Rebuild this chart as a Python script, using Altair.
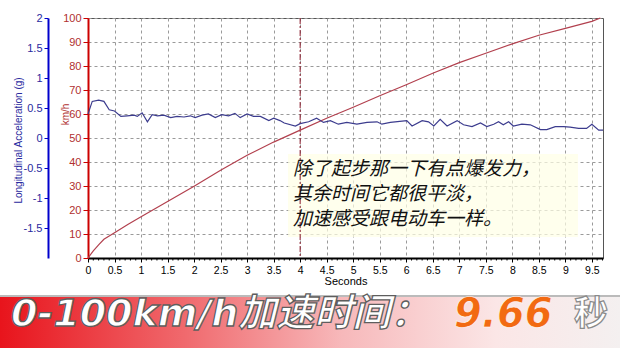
import altair as alt
import pandas as pd

# ---- data ----
speed_t = [0, 0.1, 0.2, 0.3, 0.5, 0.75, 1.0, 1.5, 2.0, 2.5, 3.0, 3.5, 4.0, 4.5, 5.0,
           5.5, 6.0, 6.5, 7.0, 7.5, 8.0, 8.5, 9.0, 9.5, 9.66]
speed_kmh = [0, 3.0, 5.5, 7.8, 10.5, 14.0, 17.2, 23.5, 29.9, 36.6, 42.8, 48.3, 53.3, 58.2, 62.8,
             67.6, 72.2, 77.0, 81.4, 85.3, 89.2, 92.8, 95.7, 98.6, 100]

acc_t = [0, 0.08, 0.2, 0.3, 0.4, 0.5, 0.62, 0.74, 0.87, 0.93, 1.02, 1.12, 1.21, 1.31, 1.43,
         1.56, 1.68, 1.81, 1.93, 2.02, 2.15, 2.27, 2.40, 2.52, 2.65, 2.77, 2.87, 3.0, 3.12,
         3.25, 3.41, 3.5, 3.62, 3.70, 3.91, 4.0, 4.16, 4.31, 4.44, 4.57, 4.72, 4.88, 5.07,
         5.26, 5.45, 5.54, 5.70, 6.01, 6.11, 6.30, 6.42, 6.52, 6.64, 6.77, 6.96, 7.08, 7.24,
         7.40, 7.52, 7.65, 7.74, 7.83, 7.93, 8.02, 8.18, 8.34, 8.53, 8.65, 8.81, 8.97, 9.09,
         9.25, 9.40, 9.50, 9.63, 9.71]
acc_g = [0.40, 0.61, 0.63, 0.61, 0.47, 0.45, 0.36, 0.37, 0.38, 0.36, 0.42, 0.27, 0.39, 0.37, 0.38,
         0.34, 0.36, 0.35, 0.37, 0.34, 0.38, 0.40, 0.34, 0.39, 0.37, 0.41, 0.34, 0.40, 0.36,
         0.36, 0.29, 0.33, 0.29, 0.25, 0.20, 0.24, 0.27, 0.33, 0.26, 0.29, 0.23, 0.26, 0.23,
         0.26, 0.27, 0.23, 0.26, 0.29, 0.20, 0.29, 0.27, 0.20, 0.31, 0.20, 0.29, 0.22, 0.19,
         0.25, 0.19, 0.23, 0.27, 0.22, 0.27, 0.20, 0.23, 0.22, 0.14, 0.14, 0.19, 0.19, 0.18,
         0.16, 0.16, 0.23, 0.13, 0.13]

x_ticks = [0, 0.5, 1, 1.5, 2, 2.5, 3, 3.5, 4, 4.5, 5, 5.5, 6, 6.5, 7, 7.5, 8, 8.5, 9, 9.5]
minor_ticks = [round(i * 0.1, 1) for i in range(98) if i % 5 != 0]
kmh_ticks = [0, 10, 20, 30, 40, 50, 60, 70, 80, 90, 100]
g_ticks = [-1.5, -1, -0.5, 0, 0.5, 1, 1.5, 2]
marker_t = [4]

note_lines = ["除了起步那一下有点爆发力，", "其余时间它都很平淡，", "加速感受跟电动车一样。"]
banner_label = "0-100km/h加速时间："
banner_value = "9.66"
banner_unit = "秒"

W, H = 515, 240
X_MAX = 9.71
LATIN = "Liberation Sans"
CJK = "Noto Sans CJK SC"

speed_df = pd.DataFrame({"t": speed_t, "v": speed_kmh})
acc_df = pd.DataFrame({"t": acc_t, "g": acc_g})
minor_df = pd.DataFrame({"t": minor_ticks})
marker_df = pd.DataFrame({"t": marker_t})
note_df = pd.DataFrame({"line": note_lines, "i": list(range(len(note_lines)))})

xscale = alt.Scale(domain=[0, X_MAX], nice=False, zero=False)

x_axis = alt.Axis(values=x_ticks, labelExpr="datum.value + ''", title="Seconds",
                  domainColor="#000000", domainWidth=2, tickColor="#000000", tickSize=4,
                  labelColor="#000000", labelFont=LATIN, labelFontSize=10.5, labelPadding=3,
                  titleFont=LATIN, titleFontSize=11, titleFontWeight="normal", titlePadding=0,
                  titleColor="#000000", grid=True, gridColor="#9a9a9a", gridDash=[3, 3],
                  labelFlush=False, labelOverlap=False, labelBound=False)

X = alt.X("t:Q", scale=xscale, axis=x_axis, title="Seconds")

speed = alt.Chart(speed_df).mark_line(color="#B2404E", strokeWidth=1.2).encode(
    x=X,
    y=alt.Y("v:Q", scale=alt.Scale(domain=[0, 100], nice=False),
            axis=alt.Axis(orient="left", values=kmh_ticks, title="km/h",
                          domainColor="#CC0000", domainWidth=2, tickColor="#CC0000",
                          tickSize=5, labelColor="#B03030", labelFont=LATIN,
                          labelFontSize=11, labelPadding=2, titleColor="#B03030",
                          titleFont=LATIN, titleFontSize=10, titleFontWeight="normal",
                          titleX=-23, titleY=96, titleAngle=-90, titleAlign="center",
                          titleBaseline="middle", labelOverlap=False,
                          grid=True, gridColor="#9a9a9a", gridDash=[3, 3])),
)

acc = alt.Chart(acc_df).mark_line(color="#3C3C8E", strokeWidth=1.2).encode(
    x=X,
    y=alt.Y("g:Q", scale=alt.Scale(domain=[-2, 2], nice=False),
            axis=alt.Axis(orient="left", offset=40, values=g_ticks,
                          labelExpr="datum.value + ''",
                          title="Longitudinal Acceleration (g)",
                          domainColor="#0000CC", domainWidth=2, tickColor="#0000CC",
                          tickSize=4, labelColor="#2A2AA0", labelFont=LATIN,
                          labelFontSize=11, labelPadding=2, titleColor="#2A2AA0",
                          titleFont=LATIN, titleFontSize=10, titleFontWeight="normal",
                          titleX=-30, titleY=122, titleAngle=-90, titleAlign="center",
                          titleBaseline="middle", labelOverlap=False, grid=False)),
)

minor = alt.Chart(minor_df).mark_rule(color="#000000", strokeWidth=1).encode(
    x=X, y=alt.value(H), y2=alt.value(H + 2.5),
)

marker = alt.Chart(marker_df).mark_rule(color="#8B1A2A", strokeWidth=1,
                                        strokeDash=[6, 2, 2, 2]).encode(
    x=X, y=alt.value(0), y2=alt.value(H),
)

note_box = alt.Chart(pd.DataFrame({"a": [0]})).mark_rect(
    fill="#FFFFE6", opacity=0.7).encode(
    x=alt.value(200), x2=alt.value(490), y=alt.value(136), y2=alt.value(219),
)

note = alt.Chart(note_df).mark_text(
    align="left", baseline="middle", font=CJK, fontSize=19, fontStyle="italic",
    color="#111111").encode(
    x=alt.value(205),
    y=alt.Y("i:Q", scale=alt.Scale(domain=[0, 2], range=[151, 201]), axis=None),
    text="line:N",
)

banner_grad = alt.LinearGradient(
    gradient="linear", x1=0, x2=1, y1=0, y2=0,
    stops=[alt.GradientStop(offset=0, color="#E8141C"),
           alt.GradientStop(offset=0.3, color="#F06A6E"),
           alt.GradientStop(offset=0.55, color="#F7B8BA"),
           alt.GradientStop(offset=0.8, color="#FBE6E6"),
           alt.GradientStop(offset=1, color="#F4F0F0")])

one = pd.DataFrame({"a": [0]})
banner_line = alt.Chart(one).mark_rule(color="#BBBBBB", strokeWidth=2).encode(
    x=alt.value(-88), x2=alt.value(532), y=alt.value(278),
)
banner = alt.Chart(one).mark_rect(fill=banner_grad).encode(
    x=alt.value(-88), x2=alt.value(532), y=alt.value(279), y2=alt.value(330),
)

BFONT = "DejaVu Sans, Noto Sans CJK SC"
label_txt = alt.Chart(pd.DataFrame({"s": [banner_label]})).mark_text(
    align="left", baseline="middle", font=BFONT, fontSize=38, fontWeight="bold",
    fontStyle="italic", color="#FFFFFF", stroke="#5E5E5E", strokeWidth=1.3).encode(
    x=alt.value(-77), y=alt.value(297), text="s:N")
value_txt = alt.Chart(pd.DataFrame({"s": [banner_value]})).mark_text(
    align="left", baseline="middle", font=BFONT, fontSize=40, fontWeight="bold",
    fontStyle="italic", color="#F26A12", stroke="#FFFFFF", strokeWidth=0.6).encode(
    x=alt.value(366), y=alt.value(297), text="s:N")
unit_txt = alt.Chart(pd.DataFrame({"s": [banner_unit]})).mark_text(
    align="left", baseline="middle", font=CJK, fontSize=34, fontWeight="bold",
    color="#FFFFFF", stroke="#8A8A8A", strokeWidth=1.2).encode(
    x=alt.value(486), y=alt.value(297), text="s:N")

chart = alt.layer(
    note_box, marker, minor, speed, acc, note,
    banner_line, banner, label_txt, value_txt, unit_txt,
).resolve_scale(y="independent").properties(
    width=W, height=H,
    autosize=alt.AutoSizeParams(type="none"),
    padding={"left": 88, "top": 18, "right": 17, "bottom": 90},
    background="#FFFFFF",
).configure_view(stroke="#555555", strokeWidth=1).configure_axis(labelOverlap=False)

chart.save("out.html", embed_options={"renderer": "svg", "actions": False})
